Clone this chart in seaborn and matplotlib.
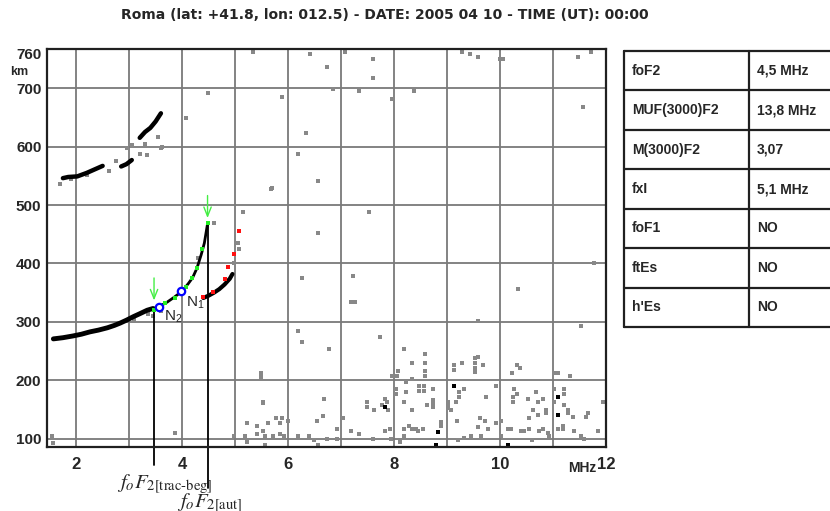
import matplotlib
matplotlib.use("Agg")
import matplotlib.pyplot as plt
import seaborn as sns
import pandas as pd

sns.set_theme(style="white")
plt.rcParams["font.family"] = ["Liberation Sans", "DejaVu Sans"]
plt.rcParams["mathtext.fontset"] = "stix"

TITLE = "Roma (lat: +41.8, lon: 012.5) - DATE: 2005 04 10 - TIME (UT): 00:00"

# --- ionogram traces (freq MHz, virtual height km) ---
# ordinary F2 trace, lower part (black)
o_low_f = [1.57, 1.75, 1.94, 2.10, 2.26, 2.42, 2.59, 2.72, 2.83, 2.95, 3.08, 3.20, 3.34, 3.45]
o_low_h = [271, 273, 276, 279, 283, 286, 290, 294, 298, 303, 309, 314, 320, 323]
# ordinary F2 trace near the cusp (black, under the green points)
o_cusp_f = [3.50, 3.62, 3.72, 3.83, 3.95, 4.05, 4.12, 4.20, 4.28, 4.36, 4.42, 4.48]
o_cusp_h = [325, 329, 334, 341, 349, 358, 366, 376, 392, 415, 435, 468]
# points picked by the autoscaler (green)
green_f = [3.47, 3.68, 3.87, 4.08, 4.19, 4.28, 4.38, 4.48]
green_h = [321, 332, 341, 360, 375, 392, 425, 469]
# extraordinary trace (black line + red points)
x_f = [4.40, 4.50, 4.60, 4.70, 4.80, 4.90, 4.95]
x_h = [341, 345, 350, 356, 364, 374, 382]
red_f = [4.40, 4.59, 4.80, 4.87, 4.97, 5.08]
red_h = [343, 351, 374, 394, 416, 456]
# second hop trace, black segments
hop_seg = ["a"] * 6 + ["b"] * 3 + ["c"] * 5
hop_f = [1.75, 1.85, 2.02, 2.20, 2.40, 2.50, 2.85, 2.95, 3.05, 3.20, 3.30, 3.40, 3.50, 3.60]
hop_h = [546, 548, 549, 555, 563, 567, 566, 570, 577, 615, 625, 632, 643, 657]

# grey echoes around the traces
fuzz_pts = [(1.70, 536), (1.90, 545), (2.20, 552), (2.62, 558), (2.75, 575), (2.96, 598),
            (3.05, 603), (3.20, 588), (3.34, 585), (3.30, 605), (3.55, 617), (3.60, 597),
            (3.62, 600), (3.10, 305), (3.35, 313), (3.45, 311), (3.60, 318), (4.97, 400),
            (5.06, 435), (5.08, 425), (4.30, 410)]
# sparse grey echoes above 250 km
sparse_pts = [(5.33, 762), (6.42, 758), (7.07, 762), (7.61, 750), (6.73, 736), (7.61, 717),
              (5.88, 685), (7.33, 695), (8.37, 695), (9.28, 762), (9.43, 758), (9.58, 753),
              (10.0, 750), (10.05, 750), (11.47, 753), (11.72, 762), (11.56, 668), (6.33, 623),
              (6.18, 587), (5.69, 529), (6.57, 541), (5.14, 488), (7.52, 488), (6.57, 452),
              (6.27, 375), (7.23, 379), (7.18, 334), (7.27, 334), (10.34, 356), (9.58, 302),
              (11.53, 293), (6.18, 285), (7.73, 274), (4.48, 692), (4.08, 649), (5.67, 527),
              (4.60, 469), (6.84, 698), (7.97, 681), (11.77, 401), (6.27, 266), (6.78, 254),
              (8.18, 254)]
# grey noise below 250 km, 4-8.5 MHz
low_pts = [(8.33, 230), (5.48, 206), (5.48, 212), (8.07, 216), (7.97, 208), (8.05, 208),
           (8.22, 197), (8.33, 203), (5.52, 163), (6.67, 168), (7.48, 163), (7.48, 155),
           (7.63, 150), (7.82, 168), (7.86, 163), (7.78, 158), (7.88, 150), (8.03, 185),
           (8.03, 177), (8.18, 163), (8.33, 150), (8.22, 180), (6.65, 139), (6.54, 131),
           (7.03, 136), (5.23, 127), (5.42, 122), (5.63, 127), (5.78, 136), (5.88, 136),
           (5.99, 131), (5.53, 114), (5.84, 127), (5.42, 109), (5.84, 109), (5.18, 104),
           (5.23, 95), (5.57, 104), (5.72, 104), (5.93, 104), (5.57, 90), (6.18, 104),
           (6.39, 104), (6.48, 98), (6.57, 90), (6.73, 100), (6.93, 117), (6.93, 100),
           (7.18, 114), (7.33, 109), (7.61, 100), (7.82, 114), (7.92, 117), (7.94, 100),
           (8.18, 117), (8.28, 122), (8.33, 117), (8.18, 104), (8.12, 95), (8.45, 114),
           (4.97, 104), (3.87, 110), (1.55, 104), (1.57, 92), (5.53, 162)]
# grey noise below 250 km, 8.5-12 MHz
right_pts = [(8.58, 245), (8.58, 230), (8.58, 216), (8.58, 208), (9.13, 226), (9.13, 218),
             (9.28, 230), (9.58, 240), (9.67, 226), (10.22, 213), (10.32, 226), (10.37, 221),
             (11.02, 213), (11.10, 213), (11.32, 208), (11.94, 163), (8.47, 191), (8.56, 191),
             (8.47, 182), (8.56, 182), (8.73, 185), (8.73, 167), (8.73, 161), (8.73, 155),
             (8.62, 158), (9.01, 163), (9.01, 158), (9.01, 153), (9.22, 180), (9.22, 172),
             (9.32, 185), (9.16, 163), (9.07, 150), (9.73, 172), (9.92, 191), (10.26, 185),
             (10.32, 177), (10.24, 172), (10.24, 163), (10.53, 168), (10.68, 180), (10.71, 163),
             (10.82, 168), (10.62, 150), (10.86, 150), (11.02, 185), (11.21, 185), (11.21, 177),
             (11.02, 163), (11.21, 158), (11.29, 150), (11.29, 145), (11.38, 138), (11.66, 144),
             (11.62, 138), (10.71, 141), (10.54, 136), (10.86, 144), (9.18, 131), (9.62, 136),
             (9.71, 131), (10.02, 131), (9.92, 127), (10.20, 117), (10.39, 114), (10.45, 114),
             (10.54, 117), (10.73, 114), (10.82, 117), (10.90, 110), (10.92, 104), (11.09, 117),
             (11.19, 122), (11.19, 117), (11.39, 114), (11.53, 104), (11.58, 100), (11.85, 114),
             (8.88, 129), (8.88, 122), (8.54, 117), (8.41, 117), (9.58, 120), (9.45, 104),
             (9.32, 102), (9.64, 104), (9.77, 117), (10.15, 117), (10.02, 104), (9.20, 98),
             (10.60, 98), (9.52, 238), (9.52, 230), (9.52, 222), (9.52, 214)]
# strong (black) noise echoes
dark_pts = [(7.82, 155), (9.13, 191), (11.10, 172), (11.10, 141), (8.82, 112), (8.79, 90), (10.15, 90)]

# scaled points and markers
N_f = [3.98, 3.57]
N_h = [353, 326]
N_lab = ["$\\mathregular{N_1}$", "$\\mathregular{N_2}$"]
fo_trac_beg, fo_trac_beg_h = 3.47, 324
fo_aut, fo_aut_h = 4.48, 469
arrow_f = [3.47, 4.48]
arrow_top = [380, 521]
arrow_tip = [332, 473]

table_params = ["foF2", "MUF(3000)F2", "M(3000)F2", "fxI", "foF1", "ftEs", "h'Es"]
table_values = ["4,5 MHz", "13,8 MHz", "3,07", "5,1 MHz", "NO", "NO", "NO"]

x_ticks = [2, 4, 6, 8, 10, 12]
y_ticks = [100, 200, 300, 400, 500, 600, 700, 760]

W, H = 830, 511
fig = plt.figure(figsize=(W / 100, H / 100), dpi=100)
ax = fig.add_axes([47 / W, (H - 447) / H, 559 / W, 398 / H])

grey = "#888888"
mk = dict(marker="s", linewidth=0, legend=False, ax=ax)
for pts in (sparse_pts, low_pts, right_pts, fuzz_pts):
    f, h = zip(*pts)
    sns.scatterplot(x=list(f), y=list(h), s=5, color=grey, **mk)
f, h = zip(*dark_pts)
sns.scatterplot(x=list(f), y=list(h), s=7, color="black", **mk)

sns.lineplot(x=o_low_f, y=o_low_h, sort=False, estimator=None, color="black", lw=3.5, ax=ax)
sns.lineplot(x=o_cusp_f, y=o_cusp_h, sort=False, estimator=None, color="black", lw=2.0, ax=ax)
sns.lineplot(x=x_f, y=x_h, sort=False, estimator=None, color="black", lw=3, ax=ax)
hop = pd.DataFrame({"f": hop_f, "h": hop_h, "seg": hop_seg})
sns.lineplot(data=hop, x="f", y="h", units="seg", sort=False, estimator=None,
             color="black", lw=3.2, ax=ax)
sns.scatterplot(x=green_f, y=green_h, s=10, color="#22ee22", zorder=4, **mk)
sns.scatterplot(x=red_f, y=red_h, s=9, color="#ff1010", zorder=4, **mk)

# vertical foF2 markers reaching below the axis
ax.plot([fo_trac_beg, fo_trac_beg], [fo_trac_beg_h, 55], color="black", lw=1.3, clip_on=False)
ax.plot([fo_aut, fo_aut], [fo_aut_h, 16], color="black", lw=1.3, clip_on=False)
for fa, top, tip in zip(arrow_f, arrow_top, arrow_tip):
    ax.annotate("", xy=(fa, tip), xytext=(fa, top),
                arrowprops=dict(arrowstyle="->,head_length=0.55,head_width=0.22",
                                color="#44ee44", lw=1))
ax.scatter(N_f, N_h, s=28, marker="o", facecolors="white", edgecolors="#0000ff",
           linewidths=1.6, zorder=5)
ax.text(N_f[0] + 0.1, N_h[0] - 20, N_lab[0], fontsize=11, ha="left", va="center", zorder=6)
ax.text(N_f[1] + 0.08, N_h[1] - 18, N_lab[1], fontsize=11, ha="left", va="center", zorder=6)

ax.set_xlim(1.45, 12)
ax.set_ylim(86, 767)
ax.set_xticks(x_ticks)
ax.set_xticks([3, 5, 7, 9, 11], minor=True)
ax.set_yticks(y_ticks)
ax.set_xticklabels([str(t) for t in x_ticks], fontsize=12, fontweight="bold")
ax.set_yticklabels([str(t) for t in y_ticks], fontsize=11, fontweight="bold")
ax.tick_params(axis="both", which="both", length=0)
ax.tick_params(axis="x", pad=7)
ax.tick_params(axis="y", pad=4)
ax.grid(True, which="both", color="#7a7a7a", lw=1.3)
ax.get_ygridlines()[-1].set_visible(False)
ax.get_xgridlines()[-1].set_visible(False)
ax.set_xlabel("")
ax.set_ylabel("")
for sp in ax.spines.values():
    sp.set_color("#202020")
    sp.set_linewidth(1.6)

fig.text(385 / W, 1 - 15 / H, TITLE, ha="center", va="center", fontsize=10,
         fontweight="bold", family=["Liberation Sans Narrow", "DejaVu Sans"])
fig.text(10 / W, 1 - 72 / H, "km", ha="left", va="center", fontsize=9, fontweight="bold")
fig.text(582 / W, 1 - 468 / H, "MHz", ha="center", va="center", fontsize=10, fontweight="bold")

fig.text(117 / W, 1 - 484 / H, "$f_oF_{2\\mathrm{[trac‐beg]}}$", ha="left", va="center",
         fontsize=15)
fig.text(177 / W, 1 - 503 / H, "$f_oF_{2\\mathrm{[aut]}}$", ha="left", va="center",
         fontsize=15)

# parameter table
axt = fig.add_axes([624 / W, (H - 327) / H, (W - 624) / W, 276 / H])
axt.set_xlim(0, W - 624)
axt.set_ylim(len(table_params), 0)
axt.axis("off")
for i in range(len(table_params) + 1):
    axt.plot([0, 300], [i, i], color="#202020", lw=1.6, clip_on=False)
for xv in (0, 125):
    axt.plot([xv, xv], [0, len(table_params)], color="#202020", lw=1.6, clip_on=False)
for i, (p, v) in enumerate(zip(table_params, table_values)):
    axt.text(8, i + 0.5, p, ha="left", va="center", fontsize=10, fontweight="bold")
    axt.text(133, i + 0.5, v, ha="left", va="center", fontsize=10, fontweight="bold")

fig.savefig("out.png", dpi=100)
